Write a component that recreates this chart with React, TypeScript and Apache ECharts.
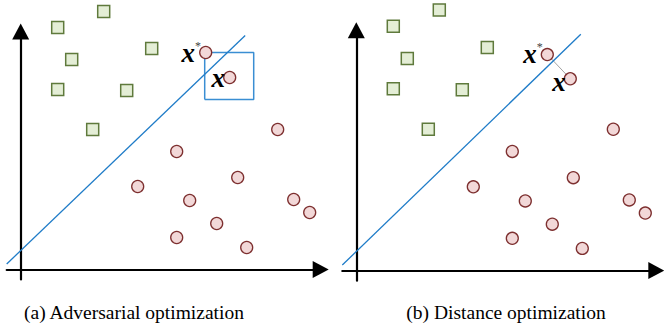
import React, { useEffect, useRef } from "react";
import * as echarts from "echarts";

// Data coordinates: origin at the axes' crossing, 1 unit ≈ 1 px
const squares: number[][] = [
  [83, 258], [37, 242], [131, 221], [51, 210], [37, 180], [106, 179], [72, 140],
];
const circles: number[][] = [
  [257, 140], [156, 118], [217, 92], [117, 83], [169, 69], [273, 70], [289, 57],
  [196, 46], [156, 32], [226, 22],
];
const specialA: number[][] = [[185, 217], [209, 192]]; // x*, x in (a)
const specialB: number[][] = [[191, 214], [214, 190]]; // x*, x in (b)
const pointLabels: string[] = ["{x|x}{s|*}", "{x|x}"];
const boundary: number[][] = [[-14, 5.5], [224.5, 234]];
const boxA: number[][] = [[184, 170], [233, 170], [233, 217], [184, 217], [184, 170]];
const captions: string[] = ["(a) Adversarial optimization", "(b) Distance optimization"];

const GREEN_FILL = "#e4eed6";
const GREEN_EDGE = "#5f7a3c";
const RED_FILL = "#f2d8d8";
const RED_EDGE = "#7d2f2f";
const BLUE = "#1f7cc8";

function axisPair(gridIndex: number) {
  const axisLine = {
    show: true,
    onZero: true,
    symbol: ["none", "triangle"],
    symbolSize: [17, 16],
    lineStyle: { color: "#000", width: 2.2 },
  };
  return {
    x: {
      type: "value", gridIndex, min: -14, max: 300,
      axisLine, axisTick: { show: false }, axisLabel: { show: false }, splitLine: { show: false },
    },
    y: {
      type: "value", gridIndex, min: -10, max: 238,
      axisLine, axisTick: { show: false }, axisLabel: { show: false }, splitLine: { show: false },
    },
  };
}

function labelled(points: number[][], dy: number[]) {
  return points.map((p, i) => ({
    value: p,
    label: {
      show: true,
      position: "left",
      distance: -2,
      offset: [0, dy[i]],
      formatter: pointLabels[i],
      rich: {
        x: {
          fontFamily: "Liberation Serif", fontWeight: "bold", fontStyle: "italic",
          fontSize: 27, color: "#000", lineHeight: 26,
        },
        s: {
          fontFamily: "Liberation Serif", fontSize: 12, color: "#444",
          verticalAlign: "top", lineHeight: 26, padding: [0, 0, 14, 0],
        },
      },
    },
  }));
}

function panelSeries(idx: number, special: number[][], withBox: boolean) {
  const base: any[] = [
    {
      type: "line", xAxisIndex: idx, yAxisIndex: idx, data: boundary, symbol: "none",
      lineStyle: { color: BLUE, width: 1.3 }, silent: true, clip: false,
    },
    {
      type: "scatter", xAxisIndex: idx, yAxisIndex: idx, data: squares, symbol: "rect",
      symbolSize: 12, clip: false,
      itemStyle: { color: GREEN_FILL, borderColor: GREEN_EDGE, borderWidth: 1.5, opacity: 1 },
    },
    {
      type: "scatter", xAxisIndex: idx, yAxisIndex: idx, data: circles, symbol: "circle",
      symbolSize: 12, clip: false,
      itemStyle: { color: RED_FILL, borderColor: RED_EDGE, borderWidth: 1.3, opacity: 1 },
    },
  ];
  if (withBox) {
    base.push({
      type: "line", xAxisIndex: idx, yAxisIndex: idx, data: boxA, symbol: "none",
      lineStyle: { color: "#3a8ed3", width: 1.5 }, clip: false, z: 1,
    });
  } else {
    base.push({
      type: "line", xAxisIndex: idx, yAxisIndex: idx, data: special, symbol: "none",
      lineStyle: { color: "#8a8a8a", width: 0.8 }, clip: false, z: 1,
    });
  }
  base.push({
    type: "scatter", xAxisIndex: idx, yAxisIndex: idx,
    data: labelled(special, withBox ? [0, 0] : [-1, 3]), symbol: "circle",
    symbolSize: 12, clip: false, z: 3,
    itemStyle: { color: RED_FILL, borderColor: RED_EDGE, borderWidth: 1.3, opacity: 1 },
  });
  return base;
}

export default function App() {
  const ref = useRef<HTMLDivElement>(null);
  useEffect(() => {
    document.body.style.margin = "0";
    const chart = echarts.init(ref.current!, null, { renderer: "svg" });
    const a = axisPair(0);
    const b = axisPair(1);
    chart.setOption({
      animation: false,
      backgroundColor: "#fff",
      grid: [
        { left: 6.7, top: 31.5, width: 314, height: 248 },
        { left: 342.3, top: 30.3, width: 314, height: 250.4 },
      ],
      xAxis: [a.x, b.x],
      yAxis: [a.y, b.y],
      series: [...panelSeries(0, specialA, true), ...panelSeries(1, specialB, false)],
      graphic: captions.map((t, i) => ({
        type: "text",
        x: i === 0 ? 134 : 506,
        y: 312,
        style: {
          text: t, fontFamily: "Liberation Serif", fontSize: 19.5, fill: "#000",
          align: "center", verticalAlign: "middle",
        },
      })),
    });
    return () => chart.dispose();
  }, []);
  return <div ref={ref} style={{ width: 664, height: 334 }} />;
}
